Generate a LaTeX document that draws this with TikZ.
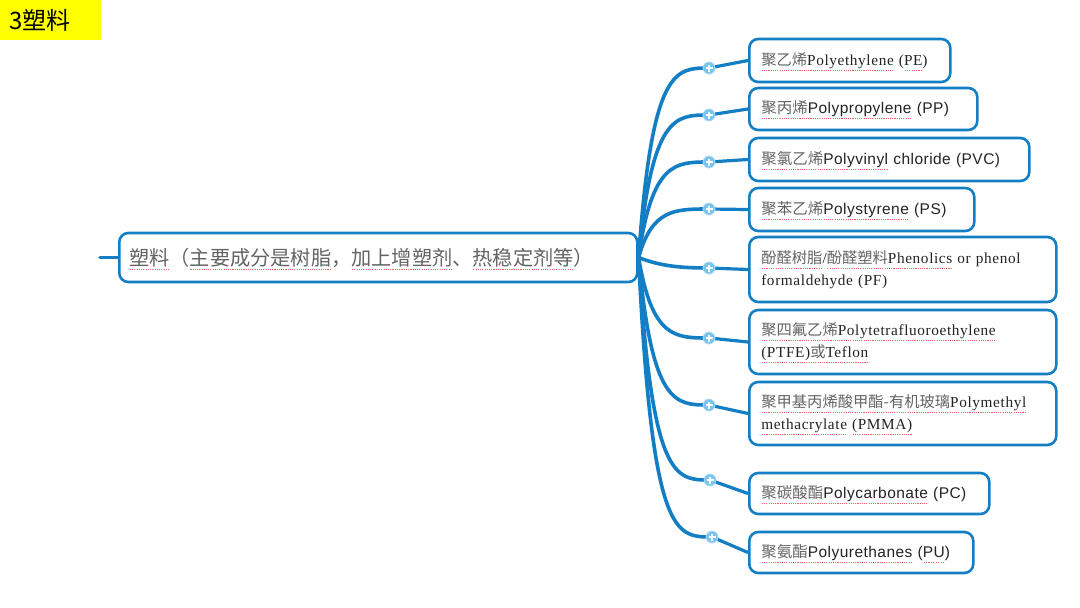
\documentclass[tikz,border=0pt]{standalone}
\usepackage{fontspec}
\setmainfont{Liberation Serif}
\newfontfamily\cjk{Noto Sans CJK SC}
\newfontfamily\lser[LetterSpace=4]{Liberation Serif}
\newfontfamily\lsan[LetterSpace=3]{Liberation Sans}
\definecolor{mapblue}{RGB}{20,126,196}
\definecolor{plusfill}{RGB}{120,196,240}
\definecolor{plusedge}{RGB}{175,218,245}
\definecolor{zhgray}{RGB}{100,100,100}
\definecolor{engray}{RGB}{35,35,35}
\definecolor{sqred}{RGB}{236,96,96}
\definecolor{titleyellow}{RGB}{255,255,0}
\newcommand\zh[1]{{\cjk\color{zhgray}#1}}
\newcommand\sq[1]{\leavevmode\setbox0=\hbox{#1}\rlap{\copy0}\raisebox{-5pt}[0pt][0pt]{\hbox to \wd0{\color{sqred}\xleaders\hbox to 2.2pt{\hss\vrule width 1.1pt height 0.7pt\hss}\hfill}}}
\begin{document}
\begin{tikzpicture}[x=1pt,y=-1pt,
  curve/.style={draw=mapblue,line width=3.6pt,line cap=round},
  link/.style={draw=mapblue,line width=3.2pt},
  boxbase/.style={draw=mapblue,fill=white,line width=2.6pt,rounded corners=9pt,anchor=west,align=left,inner xsep=12pt,inner ysep=0pt,text=engray},
  serbox/.style={boxbase,font=\lser\fontsize{15.3}{22}\selectfont},
  sanbox/.style={boxbase,font=\lsan\fontsize{15.5}{22}\selectfont},
  plus/.style={circle,fill=plusfill,draw=plusedge,line width=0.8pt,minimum size=12pt,inner sep=0pt,
    path picture={\draw[white,line width=1.6pt] ([xshift=-3.5pt]path picture bounding box.center) -- ([xshift=3.5pt]path picture bounding box.center);
                  \draw[white,line width=1.6pt] ([yshift=-3.5pt]path picture bounding box.center) -- ([yshift=3.5pt]path picture bounding box.center);}}
]
\useasboundingbox (0,0) rectangle (1080,608);

% title
\node[fill=titleyellow,anchor=north west,minimum height=40pt,text width=83pt,inner xsep=9pt,inner ysep=0pt,align=left,
      font=\cjk\fontsize{24}{26}\selectfont,text=black] (title) at (0,0) {3塑料};

% stub
\coordinate (stub) at (100,257.5);

% main node
\node[boxbase,font=\cjk\fontsize{20.2}{22}\selectfont,minimum height=49pt,text width=498pt,inner xsep=10pt,text=zhgray] (main) at (118,257.5)
  {\sq{塑料}（\sq{主要成分是树脂}，\sq{加上增塑剂}、\sq{热稳定剂等}）};

% plus markers positions
\coordinate (p1) at (709,68);
\coordinate (p2) at (709,115);
\coordinate (p3) at (709,162);
\coordinate (p4) at (709,209);
\coordinate (p5) at (709,268);
\coordinate (p6) at (709,338);
\coordinate (p7) at (709,405);
\coordinate (p8) at (710,480);
\coordinate (p9) at (712,537);

% child boxes
\node[serbox,minimum height=43pt,text width=177pt] (pe) at (748,60.5)
  {\sq{\zh{聚乙烯}Polyethylene} (\sq{PE})};
\node[sanbox,minimum height=42pt,text width=204pt] (pp) at (748,109)
  {\sq{\zh{聚丙烯}Polypropylene} (PP)};
\node[sanbox,minimum height=43pt,text width=256pt] (pvc) at (748,159.5)
  {\sq{\zh{聚氯乙烯}Polyvinyl} chloride (PVC)};
\node[sanbox,minimum height=43pt,text width=201pt] (ps) at (748,209.5)
  {\sq{\zh{聚苯乙烯}Polystyrene} (PS)};
\node[serbox,minimum height=65pt,text width=283pt] (pf) at (748,269.5)
  {\sq{\zh{酚醛树脂}}/\sq{\zh{酚醛塑料}Phenolics} or phenol\\formaldehyde (PF)};
\node[serbox,minimum height=64pt,text width=283pt] (ptfe) at (748,342)
  {\sq{\zh{聚四氟乙烯}Polytetrafluoroethylene}\\\sq{(PTFE)}\sq{\zh{或}Teflon}};
\node[serbox,minimum height=63pt,text width=283pt] (pmma) at (748,413.5)
  {\sq{\zh{聚甲基丙烯酸甲酯-有机玻璃}Polymethyl}\\\sq{methacrylate} \sq{(PMMA)}};
\node[sanbox,minimum height=41pt,text width=216pt] (pc) at (748,493.5)
  {\sq{\zh{聚碳酸酯}Polycarbonate} (PC)};
\node[sanbox,minimum height=41pt,text width=200pt] (pu) at (748,552.5)
  {\sq{\zh{聚氨酯}Polyurethanes} (\sq{PU})};

% connectors
\draw[curve] (stub) -- (main.west);
\draw[curve] (main.east) .. controls (652,68) and (675,68) .. (p1);
\draw[curve] (main.east) .. controls (652,115) and (675,115) .. (p2);
\draw[curve] (main.east) .. controls (652,162) and (675,162) .. (p3);
\draw[curve] (main.east) .. controls (652,209) and (675,209) .. (p4);
\draw[curve] (main.east) .. controls (660,266) and (680,268) .. (p5);
\draw[curve] (main.east) .. controls (652,338) and (675,338) .. (p6);
\draw[curve] (main.east) .. controls (652,405) and (675,405) .. (p7);
\draw[curve] (main.east) .. controls (652,480) and (675,480) .. (p8);
\draw[curve] (main.east) .. controls (652,537) and (675,537) .. (p9);
\draw[link] (p1) -- (pe.west);
\draw[link] (p2) -- (pp.west);
\draw[link] (p3) -- (pvc.west);
\draw[link] (p4) -- (ps.west);
\draw[link] (p5) -- (pf.west);
\draw[link] (p6) -- (ptfe.west);
\draw[link] (p7) -- (pmma.west);
\draw[link] (p8) -- (pc.west);
\draw[link] (p9) -- (pu.west);

% plus markers on top
\foreach \i in {1,...,9} { \node[plus] (m\i) at (p\i) {}; }
\end{tikzpicture}
\end{document}
